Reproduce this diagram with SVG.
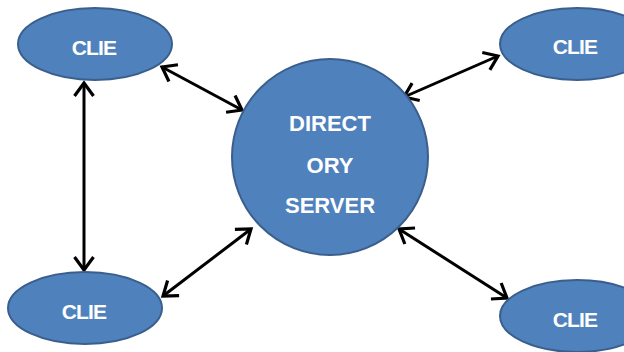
<svg xmlns="http://www.w3.org/2000/svg" width="624" height="352" viewBox="0 0 624 352">
  <style>
    .node { fill: #4f81bd; stroke: #3a5f8c; stroke-width: 2; }
    .label { fill: #ffffff; font-family: "Liberation Sans", Arial, sans-serif; font-weight: bold; text-anchor: middle; }
    .client { font-size: 21px; letter-spacing: -0.8px; }
    .server { font-size: 22px; }
    .link { stroke: #000000; stroke-width: 3; fill: none; marker-start: url(#head); marker-end: url(#head); }
  </style>
  <defs>
    <marker id="head" markerUnits="userSpaceOnUse" viewBox="-16 -12 19 24" refX="0" refY="0" markerWidth="19" markerHeight="24" orient="auto-start-reverse">
      <path d="M -13 -9.5 L 0 0 L -13 9.5" fill="none" stroke="#000000" stroke-width="3.2" stroke-linejoin="miter"/>
    </marker>
  </defs>
  <rect width="624" height="352" fill="#ffffff"/>

  <!-- two-way links between clients and the server -->
  <g id="connectors">
    <line class="link" x1="162" y1="67" x2="242" y2="110"/>
    <line class="link" x1="84" y1="83" x2="84" y2="270"/>
    <line class="link" x1="163" y1="296" x2="251" y2="229"/>
    <line class="link" x1="404" y1="97" x2="498" y2="56"/>
    <line class="link" x1="399" y1="229" x2="507" y2="298"/>
  </g>

  <g id="server">
    <circle class="node" cx="330" cy="157" r="98"/>
    <text class="label server" x="330" y="131">DIRECT</text>
    <text class="label server" x="330" y="173">ORY</text>
    <text class="label server" x="330" y="213">SERVER</text>
  </g>

  <g id="client-top-left">
    <ellipse class="node" cx="95" cy="44" rx="77" ry="36"/>
    <text class="label client" x="94" y="55">CLIE</text>
  </g>

  <g id="client-top-right">
    <ellipse class="node" cx="577" cy="44" rx="77" ry="36"/>
    <text class="label client" x="575" y="54">CLIE</text>
  </g>

  <g id="client-bottom-left">
    <ellipse class="node" cx="85" cy="308" rx="77" ry="36"/>
    <text class="label client" x="84" y="319">CLIE</text>
  </g>

  <g id="client-bottom-right">
    <ellipse class="node" cx="577" cy="316" rx="77" ry="36"/>
    <text class="label client" x="575" y="327">CLIE</text>
  </g>
</svg>
